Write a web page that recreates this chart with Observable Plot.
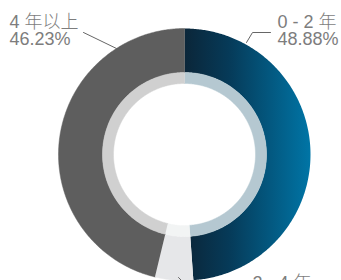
<!DOCTYPE html>
<html>
<head>
<meta charset="utf-8">
<script src="https://cdn.jsdelivr.net/npm/d3@7"></script>
<script src="https://cdn.jsdelivr.net/npm/@observablehq/plot@0.6"></script>
<style>
  html, body { margin: 0; padding: 0; background: #fff; }
  #chart { width: 341px; height: 280px; overflow: hidden; }
</style>
</head>
<body>
<div id="chart"></div>
<script>
// ---- data ----
const categories = ["0 - 2 年", "2 - 4 年", "4 年以上"];
const shares = [48.88, 4.89, 46.23];
const shareLabels = ["48.88%", "4.89%", "46.23%"];

// ---- styles ----
const outerFills = ["url(#blueGrad)", "#e6e7e9", "#5e5e5e"];
const innerFills = ["#b5c8d1", "#f2f4f4", "#d0d0d0"];
const R_OUT = 126, R_MID = 82, R_IN = 71;

// slice angles (clockwise from 12 o'clock)
const total = d3.sum(shares);
let acc = 0;
const slices = categories.map((c, i) => {
  const a0 = acc / total * 2 * Math.PI;
  acc += shares[i];
  const a1 = acc / total * 2 * Math.PI;
  return {c, i, a0, a1};
});

function ring(s, r0, r1) {
  const n = Math.max(8, Math.ceil((s.a1 - s.a0) / 0.01));
  const pts = [];
  for (let k = 0; k <= n; k++) {
    const a = s.a0 + (s.a1 - s.a0) * k / n;
    pts.push({x: r1 * Math.sin(a), y: r1 * Math.cos(a)});
  }
  for (let k = n; k >= 0; k--) {
    const a = s.a0 + (s.a1 - s.a0) * k / n;
    pts.push({x: r0 * Math.sin(a), y: r0 * Math.cos(a)});
  }
  return pts;
}

// label layout (units = pixels relative to donut center, y up)
const labelPos = [
  {x: 93, y: 139, leader: [[62, 112], [68, 122], [86, 122]]},
  {x: 68, y: -122, leader: [[-6, -123], [1, -130], [64, -130]]},
  {x: -175, y: 139, leader: [[-68, 106], [-101, 122]]}
];

const marks = [];
// gradient defs
marks.push(() => {
  const defs = d3.create("svg:defs");
  const g = defs.append("linearGradient").attr("id", "blueGrad")
    .attr("x1", "0").attr("x2", "1").attr("y1", "0").attr("y2", "0");
  g.append("stop").attr("offset", "0%").attr("stop-color", "#0b2639");
  g.append("stop").attr("offset", "35%").attr("stop-color", "#063a58");
  g.append("stop").attr("offset", "100%").attr("stop-color", "#0075a6");
  return defs.node();
});

slices.forEach(s => {
  const solid = outerFills[s.i] !== "url(#blueGrad)";
  marks.push(Plot.line(ring(s, R_MID, R_OUT), {x: "x", y: "y", fill: outerFills[s.i], stroke: solid ? outerFills[s.i] : "none", strokeWidth: 0.5}));
  marks.push(Plot.line(ring(s, R_IN, R_MID), {x: "x", y: "y", fill: innerFills[s.i], stroke: innerFills[s.i], strokeWidth: 0.5}));
});

slices.forEach(s => {
  const L = labelPos[s.i];
  const pts = L.leader.map(([x, y]) => ({x, y}));
  marks.push(Plot.line(pts, {x: "x", y: "y", stroke: "#666", strokeWidth: 1}));
  marks.push(Plot.text([{x: L.x, y: L.y, t: s.c + "\n" + shareLabels[s.i]}], {
    x: "x", y: "y", text: "t", textAnchor: "start", lineAnchor: "top",
    lineHeight: 0.97,
    fontSize: 18, fill: "#7d7d7d",
    fontFamily: "'Liberation Sans', 'Noto Sans CJK SC', sans-serif",
    fontWeight: 300
  }));
});

const chart = Plot.plot({
  width: 341,
  height: 280,
  margin: 0,
  x: {domain: [-184, 157], range: [0, 341], axis: null},
  y: {domain: [154, -126], range: [0, 280], axis: null},
  marks
});
document.getElementById("chart").appendChild(chart);
</script>
</body>
</html>
